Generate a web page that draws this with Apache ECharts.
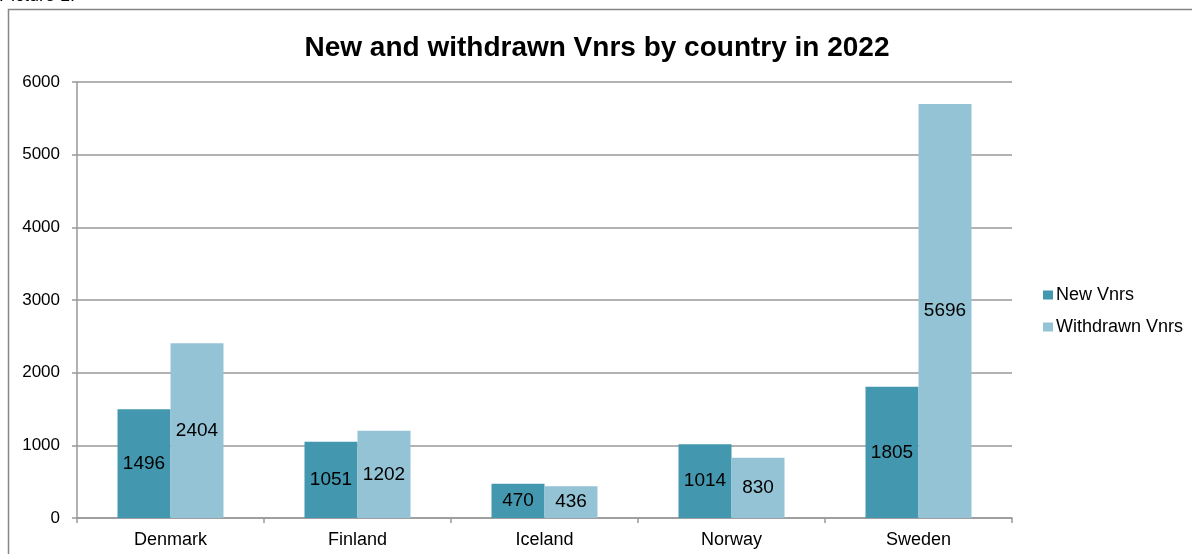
<!DOCTYPE html>
<html>
<head>
<meta charset="utf-8">
<script src="https://cdn.jsdelivr.net/npm/echarts@6/dist/echarts.min.js"></script>
<style>
html,body{margin:0;padding:0;background:#fff;}
#chart{width:1192px;height:554px;}
</style>
</head>
<body>
<div id="chart"></div>
<script>
const categories = ['Denmark', 'Finland', 'Iceland', 'Norway', 'Sweden'];
const newVnrs = [1496, 1051, 470, 1014, 1805];
const withdrawnVnrs = [2404, 1202, 436, 830, 5696];
const seriesNames = ['New Vnrs', 'Withdrawn Vnrs'];
const titleText = 'New and withdrawn Vnrs by country in 2022';

const FONT = '"Liberation Sans", Arial, sans-serif';
const chart = echarts.init(document.getElementById('chart'), null, {renderer: 'canvas'});
chart.setOption({
  animation: false,
  backgroundColor: '#fff',
  textStyle: {fontFamily: FONT},
  title: {
    text: titleText,
    left: 592, top: 29,
    textAlign: 'center',
    textStyle: {fontFamily: FONT, fontSize: 28, fontWeight: 'bold', color: '#000'}
  },
  graphic: [
    {type: 'rect', shape: {x: 8.5, y: 9.5, width: 1300, height: 700}, style: {fill: 'none', stroke: '#868686', lineWidth: 1.5}, silent: true},
    {type: 'text', style: {x: -1, y: 5, verticalAlign: 'bottom', text: 'Picture 1.', font: '18px "Liberation Sans", Arial', fill: '#000'}, silent: true}
  ],
  legend: {
    orient: 'vertical',
    left: 1038, top: 281,
    itemWidth: 10, itemHeight: 9, itemGap: 14,
    icon: 'rect',
    textStyle: {fontFamily: FONT, fontSize: 18, color: '#000', padding: [0,0,0,-2]},
    data: seriesNames
  },
  grid: {left: 77, right: 180, top: 82, bottom: 36, containLabel: false},
  xAxis: {
    type: 'category',
    data: categories,
    axisLine: {lineStyle: {color: '#999', width: 1.5}},
    axisTick: {show: true, length: 5, lineStyle: {color: '#999', width: 1.5}},
    axisLabel: {fontFamily: FONT, fontSize: 18, color: '#000', margin: 13}
  },
  yAxis: {
    type: 'value',
    min: 0, max: 6000, interval: 1000,
    axisLine: {show: true, lineStyle: {color: '#999', width: 1.5}},
    axisTick: {show: true, length: 5, lineStyle: {color: '#999', width: 1.5}},
    axisLabel: {fontFamily: FONT, fontSize: 17, color: '#000', margin: 17, formatter: v => String(v)},
    splitLine: {show: true, lineStyle: {color: '#999', width: 1.5}}
  },
  series: [
    {
      name: seriesNames[0], type: 'bar', data: newVnrs,
      barWidth: 53, barGap: '0%',
      itemStyle: {color: '#4397AE'},
      label: {show: true, position: 'inside', fontFamily: FONT, fontSize: 19, color: '#000'}
    },
    {
      name: seriesNames[1], type: 'bar', data: withdrawnVnrs,
      barWidth: 53, barGap: '0%',
      itemStyle: {color: '#93C3D5'},
      label: {show: true, position: 'inside', fontFamily: FONT, fontSize: 19, color: '#000'}
    }
  ]
});
</script>
</body>
</html>
